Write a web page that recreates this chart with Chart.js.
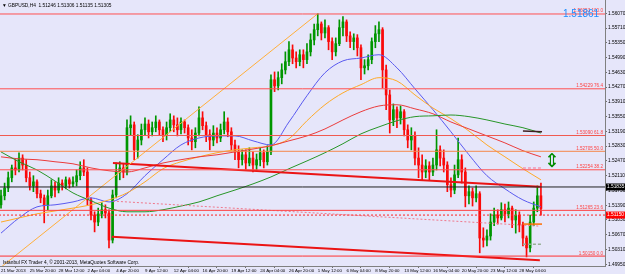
<!DOCTYPE html>
<html>
<head>
<meta charset="utf-8">
<script src="https://cdn.jsdelivr.net/npm/chart.js@4.4.1/dist/chart.umd.min.js"></script>
<style>
html, body { margin: 0; padding: 0; background: #e6e6fa; overflow: hidden; }
canvas { display: block; }
</style>
</head>
<body>
<canvas id="gbpChart" width="625" height="274"></canvas>
<script>
// GBPUSD H4 (shown as one candle per two H4 bars)
const opens = [1.5140,1.5162,1.5181,1.5206,1.5230,1.5225,1.5254,1.5237,1.5206,1.5186,
1.5196,1.5167,1.5157,1.5140,1.5162,1.5186,1.5176,1.5193,1.5186,1.5201,
1.5191,1.5196,1.5211,1.5230,1.5220,1.5152,1.5115,1.5098,1.5118,1.5128,
1.5120,1.5054,1.5164,1.5220,1.5230,1.5220,1.5328,1.5335,1.5274,1.5298,
1.5323,1.5337,1.5318,1.5328,1.5342,1.5323,1.5311,1.5328,1.5347,1.5335,
1.5323,1.5342,1.5328,1.5303,1.5294,1.5315,1.5352,1.5333,1.5311,1.5298,
1.5315,1.5303,1.5323,1.5342,1.5318,1.5286,1.5269,1.5250,1.5262,1.5242,
1.5254,1.5237,1.5250,1.5267,1.5245,1.5269,1.5445,1.5430,1.5450,1.5469,
1.5489,1.5518,1.5498,1.5489,1.5506,1.5494,1.5513,1.5542,1.5567,1.5581,
1.5559,1.5572,1.5538,1.5513,1.5533,1.5572,1.5586,1.5552,1.5538,1.5547,
1.5523,1.5474,1.5479,1.5494,1.5538,1.5557,1.5567,1.5469,1.5408,1.5347,
1.5372,1.5352,1.5367,1.5323,1.5298,1.5308,1.5254,1.5237,1.5220,1.5235,
1.5220,1.5237,1.5274,1.5254,1.5237,1.5189,1.5176,1.5213,1.5250,1.5220,
1.5162,1.5172,1.5157,1.5167,1.5059,1.5054,1.5064,1.5098,1.5115,1.5108,
1.5128,1.5118,1.5132,1.5103,1.5115,1.5091,1.5059,1.5035,1.5098,1.5132,
1.5162];
const closes = [1.5162,1.5181,1.5206,1.5230,1.5225,1.5254,1.5237,1.5206,1.5186,1.5196,
1.5167,1.5157,1.5140,1.5162,1.5186,1.5176,1.5193,1.5186,1.5201,1.5191,
1.5196,1.5211,1.5230,1.5220,1.5152,1.5115,1.5098,1.5118,1.5128,1.5120,
1.5054,1.5164,1.5220,1.5230,1.5220,1.5328,1.5335,1.5274,1.5298,1.5323,
1.5337,1.5318,1.5328,1.5342,1.5323,1.5311,1.5328,1.5347,1.5335,1.5323,
1.5342,1.5328,1.5303,1.5294,1.5315,1.5352,1.5333,1.5311,1.5298,1.5315,
1.5303,1.5323,1.5342,1.5318,1.5286,1.5269,1.5250,1.5262,1.5242,1.5254,
1.5237,1.5250,1.5267,1.5245,1.5269,1.5445,1.5430,1.5450,1.5469,1.5489,
1.5518,1.5498,1.5489,1.5506,1.5494,1.5513,1.5542,1.5567,1.5581,1.5559,
1.5572,1.5538,1.5513,1.5533,1.5572,1.5586,1.5552,1.5538,1.5547,1.5523,
1.5474,1.5479,1.5494,1.5538,1.5557,1.5567,1.5469,1.5408,1.5347,1.5372,
1.5352,1.5367,1.5323,1.5298,1.5308,1.5254,1.5237,1.5220,1.5235,1.5220,
1.5237,1.5274,1.5254,1.5237,1.5189,1.5176,1.5213,1.5250,1.5220,1.5162,
1.5172,1.5157,1.5167,1.5059,1.5054,1.5064,1.5098,1.5115,1.5108,1.5128,
1.5118,1.5132,1.5103,1.5115,1.5091,1.5059,1.5035,1.5098,1.5132,1.5162,
1.5131];
const highs = [1.5176,1.5193,1.5220,1.5237,1.5250,1.5267,1.5262,1.5250,1.5220,1.5211,
1.5201,1.5176,1.5164,1.5176,1.5201,1.5196,1.5206,1.5201,1.5208,1.5206,
1.5208,1.5225,1.5245,1.5250,1.5230,1.5157,1.5123,1.5132,1.5145,1.5140,
1.5128,1.5176,1.5242,1.5245,1.5240,1.5347,1.5357,1.5342,1.5311,1.5337,
1.5352,1.5347,1.5342,1.5357,1.5347,1.5330,1.5342,1.5362,1.5357,1.5352,
1.5352,1.5347,1.5335,1.5323,1.5328,1.5379,1.5367,1.5342,1.5323,1.5333,
1.5328,1.5337,1.5367,1.5352,1.5328,1.5298,1.5284,1.5274,1.5274,1.5279,
1.5269,1.5264,1.5279,1.5274,1.5284,1.5457,1.5464,1.5464,1.5484,1.5513,
1.5538,1.5530,1.5513,1.5518,1.5518,1.5533,1.5557,1.5581,1.5606,1.5586,
1.5591,1.5577,1.5547,1.5547,1.5591,1.5599,1.5591,1.5562,1.5557,1.5555,
1.5530,1.5494,1.5506,1.5547,1.5577,1.5586,1.5572,1.5481,1.5420,1.5386,
1.5379,1.5381,1.5372,1.5335,1.5328,1.5318,1.5279,1.5262,1.5250,1.5245,
1.5254,1.5323,1.5284,1.5274,1.5245,1.5206,1.5237,1.5303,1.5262,1.5230,
1.5186,1.5181,1.5186,1.5172,1.5084,1.5079,1.5118,1.5132,1.5128,1.5145,
1.5142,1.5147,1.5137,1.5128,1.5123,1.5098,1.5064,1.5115,1.5147,1.5186,
1.5193];
const lows = [1.5132,1.5152,1.5172,1.5196,1.5213,1.5220,1.5225,1.5196,1.5176,1.5172,
1.5157,1.5145,1.5096,1.5128,1.5157,1.5159,1.5169,1.5176,1.5179,1.5181,
1.5184,1.5186,1.5201,1.5211,1.5140,1.5103,1.5074,1.5089,1.5108,1.5108,
1.5035,1.5047,1.5157,1.5201,1.5206,1.5213,1.5311,1.5250,1.5254,1.5286,
1.5311,1.5303,1.5308,1.5318,1.5311,1.5294,1.5298,1.5318,1.5318,1.5308,
1.5313,1.5315,1.5286,1.5274,1.5279,1.5308,1.5323,1.5294,1.5274,1.5284,
1.5291,1.5294,1.5313,1.5306,1.5274,1.5250,1.5230,1.5237,1.5225,1.5235,
1.5220,1.5225,1.5235,1.5230,1.5237,1.5262,1.5416,1.5420,1.5435,1.5459,
1.5479,1.5484,1.5474,1.5479,1.5474,1.5484,1.5503,1.5530,1.5552,1.5542,
1.5547,1.5518,1.5494,1.5503,1.5528,1.5552,1.5538,1.5523,1.5518,1.5503,
1.5445,1.5459,1.5469,1.5484,1.5523,1.5538,1.5425,1.5372,1.5315,1.5333,
1.5328,1.5337,1.5308,1.5279,1.5274,1.5237,1.5206,1.5201,1.5206,1.5201,
1.5211,1.5225,1.5235,1.5220,1.5172,1.5159,1.5167,1.5206,1.5193,1.5135,
1.5142,1.5137,1.5147,1.5023,1.5037,1.5040,1.5054,1.5089,1.5093,1.5103,
1.5098,1.5108,1.5084,1.5071,1.5074,1.5040,1.5013,1.5025,1.5089,1.5123,
1.5115];

// moving averages, read every 5 candles
const maIdx = [0,5,10,15,20,25,30,35,40,45,50,55,60,65,70,75,80,85,90,95,100,105,110,115,120,125,130,135,140,145,150];
const maBlue = [1.5071,1.5108,1.5135,1.5140,1.5147,1.5157,1.5147,1.5167,1.5211,1.5250,1.5286,1.5303,1.5308,1.5308,1.5296,1.5286,1.5342,1.5406,1.5462,1.5491,1.5498,1.5506,1.5474,1.5423,1.5372,1.5318,1.5262,1.5211,1.5179,1.5152,1.5135];
const maOrange = [1.5098,1.5108,1.5118,1.5125,1.5132,1.5140,1.5152,1.5169,1.5196,1.5228,1.5245,1.5257,1.5267,1.5274,1.5279,1.5284,1.5301,1.5345,1.5384,1.5413,1.5433,1.5450,1.5442,1.5408,1.5376,1.5350,1.5320,1.5286,1.5257,1.5228,1.5201];
const maRed = [1.5257,1.5252,1.5250,1.5245,1.5240,1.5230,1.5223,1.5220,1.5230,1.5242,1.5250,1.5257,1.5262,1.5269,1.5276,1.5284,1.5296,1.5308,1.5325,1.5347,1.5367,1.5381,1.5384,1.5374,1.5362,1.5342,1.5325,1.5308,1.5291,1.5272,1.5257];
const maGreen = [1.5269,1.5245,1.5225,1.5198,1.5169,1.5150,1.5132,1.5123,1.5123,1.5128,1.5137,1.5147,1.5162,1.5176,1.5191,1.5208,1.5228,1.5247,1.5267,1.5289,1.5313,1.5330,1.5345,1.5355,1.5357,1.5359,1.5355,1.5347,1.5337,1.5328,1.5315];

// horizontal levels (fibo) and their texts
const fiboLevels = [1.56053, 1.54229, 1.53090, 1.52705, 1.52254, 1.51265, 1.50150];
const fiboTexts = ['1.56053 100.0', '1.54229 76.4', '1.53090 61.8', '1.52705 50.0', '1.52254 38.2', '1.51265 23.6', '1.50150 0.0'];
const fiboColors = ['#ff5050', '#ff5050', '#f05a50', '#f5874a', '#ff5050', '#ff4040', '#ff3030'];
const blackLevel = 1.51835;
const alertLevel = 1.51150;

// axis ticks
const priceTicks = [1.4995,1.5031,1.5067,1.5103,1.5139,1.5175,1.5211,1.5247,1.5283,1.5319,1.5355,1.5391,1.5427,1.5463,1.5499,1.5535,1.5571,1.5607];
const timeTickIdx = [0,8,16,24,32,40,48,56,64,72,80,88,96,104,112,120,128,136,144];
const timeLabels = ['21 Mar 2013','25 Mar 20:00','28 Mar 12:00','2 Apr 04:00','4 Apr 20:00','9 Apr 12:00','12 Apr 04:00','16 Apr 20:00','19 Apr 12:00','24 Apr 04:00','26 Apr 20:00','1 May 12:00','6 May 04:00','8 May 20:00','13 May 12:00','16 May 04:00','20 May 20:00','23 May 12:00','28 May 04:00'];

const BULL = 'rgb(0,150,0)';
const BEAR = 'rgb(250,10,10)';

const candleColors = closes.map((c, i) => c >= opens[i] ? BULL : BEAR);
const bodies = closes.map((c, i) => ({ x: i, y: [opens[i], c] }));
const wicks = closes.map((c, i) => ({ x: i, y: [lows[i], highs[i]] }));

function maLine(values, color) {
    return {
        type: 'line',
        data: maIdx.map((x, k) => ({ x: x, y: values[k] })),
        borderColor: color,
        borderWidth: 1,
        pointRadius: 0,
        cubicInterpolationMode: 'monotone',
        order: 3
    };
}

function segment(x1, y1, x2, y2, color, width, dash) {
    return {
        type: 'line',
        data: [{ x: x1, y: y1 }, { x: x2, y: y2 }],
        borderColor: color,
        borderWidth: width,
        borderDash: dash || [],
        pointRadius: 0,
        order: 2
    };
}

const datasets = [
    { type: 'bar', data: wicks, backgroundColor: candleColors, barThickness: 1, grouped: false, order: 11 },
    { type: 'bar', data: bodies, backgroundColor: candleColors, barThickness: 2, grouped: false, order: 10 },
    maLine(maGreen, 'rgb(40,150,40)'),
    maLine(maRed, 'rgb(235,60,60)'),
    maLine(maOrange, 'rgb(255,170,40)'),
    maLine(maBlue, 'rgb(90,90,240)')
];
fiboLevels.forEach((lv, k) => datasets.push(segment(-5, lv, 175, lv, fiboColors[k], 1)));
datasets.push(segment(-5, blackLevel, 175, blackLevel, '#202020', 1));
datasets.push(segment(-5, alertLevel, 175, alertLevel, '#ff2020', 1, [2, 2]));
// trend lines
datasets.push(segment(0, 1.4988, 88, 1.5606, 'rgb(255,175,60)', 1));
datasets.push(segment(31.1, 1.5242, 149.7, 1.5184, 'rgb(235,20,20)', 2));
datasets.push(segment(30.8, 1.5062, 149.7, 1.5005, 'rgb(235,20,20)', 2));
datasets.push(segment(31.1, 1.5149, 149.7, 1.5088, 'rgb(240,120,140)', 1, [2, 2]));
// small marks at the right edge
datasets.push(segment(145, 1.5320, 150.3, 1.5318, '#402020', 1.5));
datasets.push(segment(145, 1.5230, 150.3, 1.5230, 'rgb(240,150,180)', 1.5, [3, 2]));
datasets.push(segment(145, 1.5093, 150.3, 1.5093, 'rgb(255,110,0)', 1.5));
datasets.push(segment(145, 1.5044, 150.3, 1.5044, 'rgb(150,175,150)', 1.5, [3, 2]));

const extras = {
    id: 'extras',
    beforeDraw(chart) {
        const ctx = chart.ctx;
        ctx.save();
        ctx.fillStyle = '#e6e6fa';
        ctx.fillRect(0, 0, chart.width, chart.height);
        ctx.restore();
    },
    afterDatasetsDraw(chart) {
        const ctx = chart.ctx;
        const y = chart.scales.y;
        const area = chart.chartArea;
        ctx.save();
        // fibo texts
        ctx.font = '4.6px "Liberation Sans"';
        ctx.textAlign = 'right';
        ctx.textBaseline = 'bottom';
        fiboLevels.forEach((lv, k) => {
            ctx.fillStyle = '#ff4040';
            ctx.fillText(fiboTexts[k], area.right - 2, y.getPixelForValue(lv) - 0.5);
        });
        // blue price text
        ctx.font = '10px "Liberation Sans"';
        ctx.textAlign = 'left';
        ctx.textBaseline = 'alphabetic';
        ctx.fillStyle = 'rgb(30,140,255)';
        ctx.fillText('1.51861', 563, 17);
        // double arrow
        ctx.font = '19px "DejaVu Sans"';
        ctx.textAlign = 'center';
        ctx.textBaseline = 'middle';
        ctx.fillStyle = 'rgb(0,140,0)';
        ctx.fillText('\u21D5', 552, 162);
        // header and footer text
        ctx.font = '4.8px "Liberation Sans"';
        ctx.textAlign = 'left';
        ctx.fillStyle = '#000';
        ctx.fillText('\u25BC GBPUSD,H4  1.51246 1.51306 1.51135 1.51305', 2, 6);
        ctx.fillText('Istanbul FX Trader 4, \u00A9 2001-2013, MetaQuotes Software Corp.', 3, 262.5);
        // axis price boxes
        ctx.font = '4.8px "Liberation Sans"';
        ctx.textAlign = 'left';
        [[blackLevel, '#000000'], [alertLevel, '#ff0000']].forEach(([lv, bg]) => {
            const py = y.getPixelForValue(lv);
            ctx.fillStyle = bg;
            ctx.fillRect(area.right + 1, py - 3.5, 19, 7);
            ctx.fillStyle = '#fff';
            ctx.fillText(lv.toFixed(5), area.right + 2, py);
        });
        ctx.restore();
    }
};

new Chart(document.getElementById('gbpChart'), {
    type: 'bar',
    data: { datasets: datasets },
    options: {
        responsive: false,
        animation: false,
        layout: { padding: 0 },
        plugins: { legend: { display: false }, tooltip: { enabled: false } },
        scales: {
            x: {
                type: 'linear',
                offset: false,
                min: -0.28,
                max: 167.8,
                afterBuildTicks: (s) => { s.ticks = timeTickIdx.map(v => ({ value: v })); },
                afterFit: (s) => { s.height = 8; s.paddingLeft = 0; s.paddingRight = 0; },
                grid: { display: true, drawOnChartArea: false, drawTicks: true, tickLength: 2, color: '#707070' },
                border: { display: true, color: '#808080' },
                ticks: {
                    autoSkip: false,
                    maxRotation: 0,
                    align: 'start',
                    padding: 0,
                    color: '#000',
                    font: { family: 'Liberation Sans', size: 4.4 },
                    callback: (v, i) => timeLabels[i]
                }
            },
            y: {
                type: 'linear',
                position: 'right',
                min: 1.499081,
                max: 1.563943,
                afterBuildTicks: (s) => { s.ticks = priceTicks.map(v => ({ value: v })); },
                afterFit: (s) => { s.width = 20; s.paddingTop = 0; s.paddingBottom = 0; },
                grid: { display: true, drawOnChartArea: false, drawTicks: true, tickLength: 2, color: '#707070' },
                border: { display: true, color: '#808080' },
                ticks: {
                    padding: 1,
                    color: '#000',
                    font: { family: 'Liberation Sans', size: 4.8 },
                    callback: (v) => Number(v).toFixed(5)
                }
            }
        }
    },
    plugins: [extras]
});
</script>
</body>
</html>
